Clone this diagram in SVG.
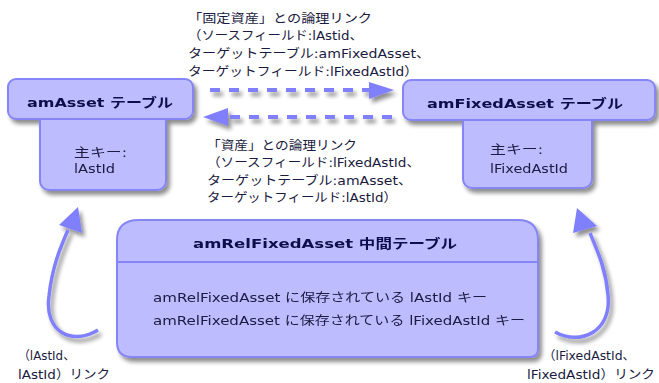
<svg xmlns="http://www.w3.org/2000/svg" width="659" height="383" viewBox="0 0 659 383">
<defs>
<filter id="sh" x="-20%" y="-20%" width="140%" height="160%">
<feGaussianBlur in="SourceAlpha" stdDeviation="2"/>
<feOffset dx="3" dy="4" result="o"/>
<feComponentTransfer><feFuncA type="linear" slope="0.45"/></feComponentTransfer>
<feMerge><feMergeNode/><feMergeNode in="SourceGraphic"/></feMerge>
</filter>
<style>
.box{fill:#bcbcff;stroke:#8585f5;stroke-width:2}
.hd{font-family:"DejaVu Sans","Noto Sans CJK JP",sans-serif;font-weight:bold;font-size:13px;fill:#10104a}
.tx{font-family:"DejaVu Sans","Noto Sans CJK JP",sans-serif;font-size:12.5px;fill:#1a1a40}
.dash{stroke:#8080ff;stroke-width:4;stroke-dasharray:10 9;fill:none}
.cur{stroke:#8080ff;stroke-width:3.5;fill:none}
.ah{fill:#8080ff}
</style>
</defs>
<rect width="659" height="383" fill="#ffffff"/>

<g id="connectors" filter="url(#sh)">
<line class="dash" x1="210" y1="90" x2="370" y2="90"/>
<polygon class="ah" points="369,82 394,90 369,99"/>
<line class="dash" x1="392" y1="117" x2="228" y2="117"/>
<polygon class="ah" points="228,108 203,117 228,126"/>
<path class="cur" d="M98 330 C72 346 44 332 49 296 C52 268 60 248 68 230"/>
<polygon class="ah" points="78,207 59,225 82,233"/>
<path class="cur" d="M555 332 C580 346 612 332 608 295 C606 270 598 252 590 233"/>
<polygon class="ah" points="577,208 573,233 597,226"/>
</g>

<g id="link-label-top">
<text class="tx" x="188" y="23" textLength="184" lengthAdjust="spacingAndGlyphs">「固定資産」との論理リンク</text>
<text class="tx" x="188" y="40" textLength="175" lengthAdjust="spacingAndGlyphs">（ソースフィールド:lAstid、</text>
<text class="tx" x="188" y="58" textLength="242" lengthAdjust="spacingAndGlyphs">ターゲットテーブル:amFixedAsset、</text>
<text class="tx" x="188" y="76" textLength="230" lengthAdjust="spacingAndGlyphs">ターゲットフィールド:lFixedAstId）</text>
</g>

<g id="link-label-bottom">
<text class="tx" x="207" y="150" textLength="150" lengthAdjust="spacingAndGlyphs">「資産」との論理リンク</text>
<text class="tx" x="207" y="167" textLength="213" lengthAdjust="spacingAndGlyphs">（ソースフィールド:lFixedAstId、</text>
<text class="tx" x="207" y="185" textLength="205" lengthAdjust="spacingAndGlyphs">ターゲットテーブル:amAsset、</text>
<text class="tx" x="207" y="202" textLength="190" lengthAdjust="spacingAndGlyphs">ターゲットフィールド:lAstId）</text>
</g>

<g id="amAsset" filter="url(#sh)">
<rect class="box" x="40" y="112" width="126" height="78" rx="9"/>
<rect class="box" x="8" y="79" width="185" height="40" rx="8"/>
<text class="hd" x="27" y="107" textLength="146" lengthAdjust="spacingAndGlyphs">amAsset テーブル</text>
<text class="tx" x="74" y="157" textLength="53" lengthAdjust="spacingAndGlyphs">主キー:</text>
<text class="tx" x="74" y="173" textLength="41" lengthAdjust="spacingAndGlyphs">lAstId</text>
</g>

<g id="amFixedAsset" filter="url(#sh)">
<rect class="box" x="463" y="112" width="129" height="76" rx="9"/>
<rect class="box" x="403" y="80" width="252" height="40" rx="8"/>
<text class="hd" x="427" y="108" textLength="196" lengthAdjust="spacingAndGlyphs">amFixedAsset テーブル</text>
<text class="tx" x="490" y="154" textLength="53" lengthAdjust="spacingAndGlyphs">主キー:</text>
<text class="tx" x="490" y="173" textLength="78" lengthAdjust="spacingAndGlyphs">lFixedAstId</text>
</g>

<g id="amRelFixedAsset" filter="url(#sh)">
<path class="box" d="M139 220 H518 Q538 220 538 240 V349 Q538 357 530 357 H132 Q117 357 117 342 V240 Q117 220 139 220 Z"/>
<line x1="117" y1="262" x2="538" y2="262" stroke="#8585f5" stroke-width="2"/>
<text class="hd" x="193" y="248" textLength="264" lengthAdjust="spacingAndGlyphs">amRelFixedAsset 中間テーブル</text>
<text class="tx" x="153" y="302" textLength="334" lengthAdjust="spacingAndGlyphs">amRelFixedAsset に保存されている lAstId キー</text>
<text class="tx" x="153" y="325" textLength="372" lengthAdjust="spacingAndGlyphs">amRelFixedAsset に保存されている lFixedAstId キー</text>
</g>

<g id="self-link-left">
<text class="tx" x="18" y="360" textLength="57" lengthAdjust="spacingAndGlyphs">（lAstId、</text>
<text class="tx" x="18" y="379" textLength="92" lengthAdjust="spacingAndGlyphs">lAstId）リンク</text>
</g>
<g id="self-link-right">
<text class="tx" x="543" y="360" textLength="92" lengthAdjust="spacingAndGlyphs">（lFixedAstId、</text>
<text class="tx" x="527" y="379" textLength="128" lengthAdjust="spacingAndGlyphs">lFixedAstId）リンク</text>
</g>
</svg>
